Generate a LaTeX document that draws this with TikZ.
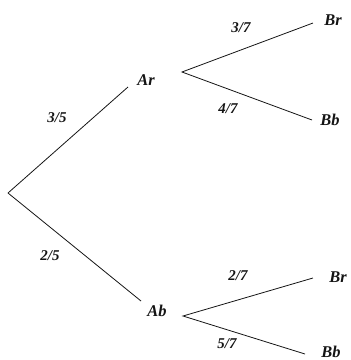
\documentclass[tikz,border=0pt]{standalone}
\usepackage{fontspec}
\setmainfont{Liberation Serif}
\usepackage{tikz}
\usetikzlibrary{positioning, calc}
\definecolor{mydark}{RGB}{20,20,20}
\tikzset{
  outcome/.style={font=\fontsize{16.5}{18}\selectfont\bfseries\itshape, inner sep=0pt, color=mydark},
  prob/.style={font=\fontsize{15}{17}\selectfont\bfseries\itshape, inner sep=0pt, color=mydark},
  branch/.style={line width=0.8pt, color=mydark}
}
\begin{document}
\begin{tikzpicture}[x=1bp, y=-1bp]
  \useasboundingbox (0,0) rectangle (351,360);

  % Branch points
  \coordinate (root) at (8,193);
  \coordinate (ArIn) at (128,87);
  \coordinate (ArOut) at (182,72);
  \coordinate (AbIn) at (141,301);
  \coordinate (AbOut) at (183,316);
  \coordinate (BrOneIn) at (313,23);
  \coordinate (BbOneIn) at (312,120);
  \coordinate (BrTwoIn) at (313,278);
  \coordinate (BbTwoIn) at (305,354);

  % Outcomes
  \node[outcome] (Ar) at (146,80) {Ar};
  \node[outcome] (Ab) at (157,311) {Ab};
  \node[outcome] (BrOne) at (333,20) {Br};
  \node[outcome] (BbOne) at (330,120) {Bb};
  \node[outcome] (BrTwo) at (338,277) {Br};
  \node[outcome] (BbTwo) at (331,352) {Bb};

  % Paths
  \draw[branch] (root) -- (ArIn);
  \draw[branch] (root) -- (AbIn);
  \draw[branch] (BrOneIn) -- (ArOut) -- (BbOneIn);
  \draw[branch] (BrTwoIn) -- (AbOut) -- (BbTwoIn);

  % Probabilities
  \node[prob] (pAr) at (57,118) {3/5};
  \node[prob] (pAb) at (50,256) {2/5};
  \node[prob] (pBrOne) at (241,28) {3/7};
  \node[prob] (pBbOne) at (228,109) {4/7};
  \node[prob] (pBrTwo) at (238,276) {2/7};
  \node[prob] (pBbTwo) at (227,344) {5/7};
\end{tikzpicture}
\end{document}
